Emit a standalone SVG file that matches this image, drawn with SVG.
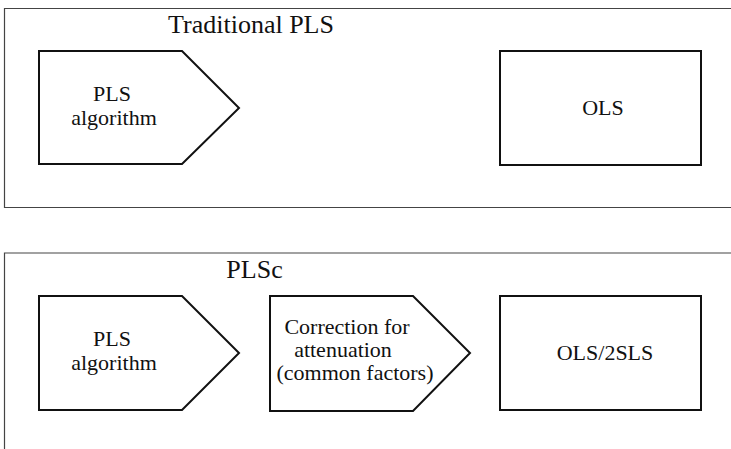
<svg xmlns="http://www.w3.org/2000/svg" width="731" height="449" viewBox="0 0 731 449">
<style>
.frame{fill:none;stroke:#444;stroke-width:1.2}
.node{fill:#fff;stroke:#111;stroke-width:2}
.t{font-family:"Liberation Serif","Times New Roman",serif;font-size:22px;fill:#111;text-anchor:middle}
.title{font-family:"Liberation Serif","Times New Roman",serif;font-size:26px;fill:#111;text-anchor:middle}
</style>
<rect width="731" height="449" fill="#fff"/>
<g id="panel-traditional">
<path class="frame" d="M740 8.5 H4.5 V207.5 H740"/>
<text class="title" x="251" y="33">Traditional PLS</text>
</g>
<g id="node-pls1">
<polygon class="node" points="39,51 182,51 239,108 182,164 39,164"/>
<text class="t"><tspan x="112" y="101">PLS</tspan><tspan x="114" y="125">algorithm</tspan></text>
</g>
<g id="node-ols">
<rect class="node" x="500" y="51" width="201" height="114"/>
<text class="t" x="603" y="115">OLS</text>
</g>
<g id="panel-plsc">
<path class="frame" d="M740 253 H4.5 V460"/>
<text class="title" x="254.5" y="278">PLSc</text>
</g>
<g id="node-pls2">
<polygon class="node" points="39,296 182,296 239,353 182,410 39,410"/>
<text class="t"><tspan x="112" y="346">PLS</tspan><tspan x="114" y="370">algorithm</tspan></text>
</g>
<g id="node-correction">
<polygon class="node" points="270,296 413,296 470,353 413,411 270,411"/>
<text class="t"><tspan x="347" y="334">Correction for</tspan><tspan x="343" y="357">attenuation</tspan><tspan x="355" y="380">(common factors)</tspan></text>
</g>
<g id="node-ols2sls">
<rect class="node" x="500" y="296" width="201" height="114"/>
<text class="t" x="605" y="360">OLS/2SLS</text>
</g>
<g id="connectors"></g>
</svg>
